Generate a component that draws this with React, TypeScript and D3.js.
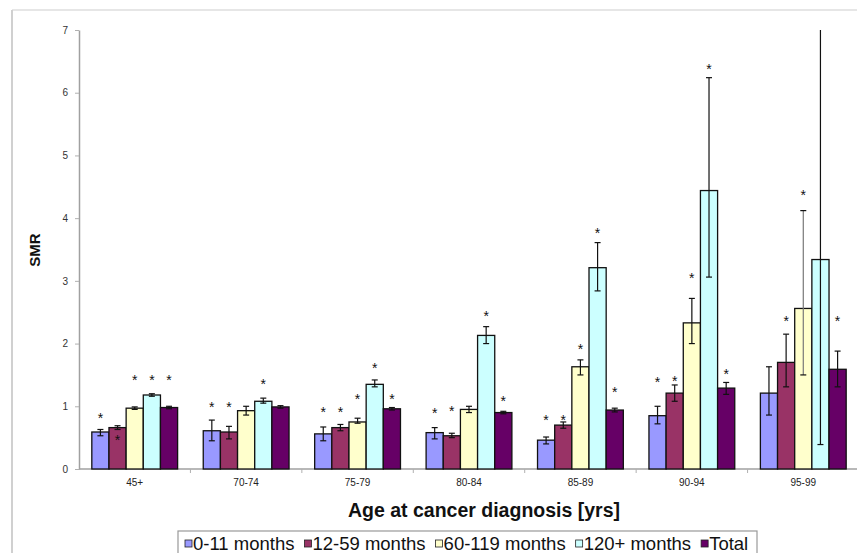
import React, { useEffect, useRef } from 'react';
import * as d3 from 'd3';

const categories = ['45+', '70-74', '75-79', '80-84', '85-89', '90-94', '95-99'];
const seriesNames = ['0-11 months', '12-59 months', '60-119 months', '120+ months', 'Total'];
const seriesColors = ['#9999ff', '#993366', '#ffffcc', '#ccffff', '#660066'];

// SMR per age group, one array per follow-up period
const smr0_11 = [0.59, 0.61, 0.56, 0.58, 0.46, 0.85, 1.21];
const smr12_59 = [0.66, 0.59, 0.66, 0.53, 0.70, 1.21, 1.70];
const smr60_119 = [0.97, 0.93, 0.75, 0.95, 1.63, 2.33, 2.56];
const smr120 = [1.18, 1.08, 1.35, 2.13, 3.21, 4.44, 3.34];
const smrTotal = [0.98, 0.99, 0.96, 0.90, 0.94, 1.29, 1.59];

// 95% confidence limits
const lo0_11 = [0.53, 0.45, 0.45, 0.48, 0.40, 0.72, 0.86];
const hi0_11 = [0.63, 0.78, 0.67, 0.66, 0.51, 1.00, 1.63];
const lo12_59 = [0.63, 0.48, 0.61, 0.50, 0.65, 1.08, 1.31];
const hi12_59 = [0.69, 0.68, 0.71, 0.57, 0.75, 1.34, 2.15];
const lo60_119 = [0.95, 0.86, 0.73, 0.90, 1.50, 2.00, 1.50];
const hi60_119 = [0.99, 1.00, 0.81, 1.00, 1.74, 2.72, 4.12];
const lo120 = [1.16, 1.05, 1.31, 2.00, 2.84, 3.06, 0.39];
const hi120 = [1.20, 1.13, 1.42, 2.27, 3.61, 6.24, 7.5];
const loTotal = [0.96, 0.97, 0.94, 0.88, 0.91, 1.19, 1.31];
const hiTotal = [1.00, 1.01, 0.98, 0.92, 0.97, 1.38, 1.88];

// where the significance asterisks sit (null = none)
const star0_11 = [0.86, 1.03, 0.95, 0.94, 0.83, 1.44, null];
const star12_59 = [0.51, 1.03, 0.95, 0.97, 0.83, 1.45, 2.40];
const star60_119 = [1.47, null, 1.16, null, 1.96, 3.10, 4.42];
const star120 = [1.47, 1.41, 1.66, 2.48, 3.81, 6.42, null];
const starTotal = [1.47, null, 1.16, 1.14, 1.28, 1.56, 2.40];

const yTicks = [0, 1, 2, 3, 4, 5, 6, 7];

const values = [smr0_11, smr12_59, smr60_119, smr120, smrTotal];
const lows = [lo0_11, lo12_59, lo60_119, lo120, loTotal];
const highs = [hi0_11, hi12_59, hi60_119, hi120, hiTotal];
const stars = [star0_11, star12_59, star60_119, star120, starTotal];

const App = () => {
    const svgRef = useRef(null);

    const width = 857;
    const height = 553;
    const marginTop = 30;
    const marginLeft = 79;
    const plotRight = 859;
    const plotBottom = 469;
    const font = 'Arial, "Liberation Sans", sans-serif';

    useEffect(() => {
        const svg = d3.select(svgRef.current);
        svg.selectAll('*').remove();

        const rows = [];
        categories.forEach((cat, i) => {
            seriesNames.forEach((s, j) => {
                rows.push({
                    cat, s, j,
                    v: values[j][i],
                    lo: lows[j][i],
                    hi: highs[j][i],
                    star: stars[j][i]
                });
            });
        });

        const x0 = d3.scaleBand()
            .domain(categories)
            .range([marginLeft, plotRight])
            .paddingInner(0.23)
            .paddingOuter(0.115);
        const x1 = d3.scaleBand()
            .domain(seriesNames)
            .range([0, x0.bandwidth()]);
        const y = d3.scaleLinear()
            .domain([0, 7])
            .range([plotBottom, marginTop]);
        const color = d3.scaleOrdinal(seriesNames, seriesColors);

        // frame
        svg.append('line')
            .attr('x1', 12).attr('x2', width).attr('y1', 10).attr('y2', 10)
            .attr('stroke', '#e6e6e6').attr('stroke-width', 2);
        svg.append('line')
            .attr('x1', 12).attr('x2', 12).attr('y1', 10).attr('y2', height)
            .attr('stroke', '#d0d0d0').attr('stroke-width', 2);

        // Y axis
        const gy = svg.append('g')
            .attr('transform', `translate(${marginLeft},0)`)
            .call(d3.axisLeft(y).tickValues(yTicks).tickFormat(d3.format('d')).tickSize(4).tickSizeOuter(0));
        gy.select('.domain').attr('stroke', '#a0a0a0').attr('stroke-width', 1.5);
        gy.selectAll('.tick line').attr('stroke', '#b0b0b0');
        gy.selectAll('.tick text')
            .attr('x', -11)
            .attr('fill', '#333')
            .style('font-family', font)
            .style('font-size', '10px');

        // X axis
        const boundaries = d3.range(categories.length + 1).map(k => marginLeft + k * x0.step());
        svg.append('line')
            .attr('x1', marginLeft).attr('x2', plotRight)
            .attr('y1', plotBottom).attr('y2', plotBottom)
            .attr('stroke', '#a0a0a0').attr('stroke-width', 1.5);
        svg.append('g')
            .selectAll('line')
            .data(boundaries.slice(1))
            .join('line')
            .attr('x1', d => d).attr('x2', d => d)
            .attr('y1', plotBottom).attr('y2', plotBottom + 4)
            .attr('stroke', '#b0b0b0');
        svg.append('g')
            .selectAll('text')
            .data(categories)
            .join('text')
            .attr('x', d => x0(d) + x0.bandwidth() / 2)
            .attr('y', plotBottom + 17)
            .attr('text-anchor', 'middle')
            .attr('fill', '#222')
            .style('font-family', font)
            .style('font-size', '10px')
            .text(d => d);

        // bars
        const bar = svg.append('g')
            .selectAll('g')
            .data(rows)
            .join('g')
            .attr('transform', d => `translate(${x0(d.cat) + x1(d.s)},0)`);

        bar.append('rect')
            .attr('x', 0)
            .attr('y', d => y(d.v))
            .attr('width', x1.bandwidth())
            .attr('height', d => y(0) - y(d.v))
            .attr('fill', d => color(d.s))
            .attr('stroke', '#111')
            .attr('stroke-width', 1.3);

        // error bars
        const cx = x1.bandwidth() / 2;
        bar.append('line')
            .attr('x1', cx).attr('x2', cx)
            .attr('y1', d => y(Math.min(d.hi, 7)))
            .attr('y2', d => y(d.lo))
            .attr('stroke', d => (d.j === 2 && d.cat === '95-99') ? '#777' : '#111')
            .attr('stroke-width', 1.2);
        bar.filter(d => d.hi <= 7).append('line')
            .attr('x1', cx - 3).attr('x2', cx + 3)
            .attr('y1', d => y(d.hi)).attr('y2', d => y(d.hi))
            .attr('stroke', '#111').attr('stroke-width', 1.2);
        bar.append('line')
            .attr('x1', cx - 3).attr('x2', cx + 3)
            .attr('y1', d => y(d.lo)).attr('y2', d => y(d.lo))
            .attr('stroke', '#111').attr('stroke-width', 1.2);

        // asterisks
        bar.filter(d => d.star != null).append('text')
            .attr('x', cx)
            .attr('y', d => y(d.star) + 8)
            .attr('text-anchor', 'middle')
            .attr('fill', '#111')
            .style('font-family', font)
            .style('font-size', '14px')
            .text('*');

        // axis titles
        svg.append('text')
            .attr('transform', `translate(40,250) rotate(-90)`)
            .attr('text-anchor', 'middle')
            .attr('fill', '#111')
            .style('font-family', font)
            .style('font-size', '15px')
            .style('font-weight', 'bold')
            .text('SMR');
        svg.append('text')
            .attr('x', 484)
            .attr('y', 517)
            .attr('text-anchor', 'middle')
            .attr('fill', '#111')
            .style('font-family', font)
            .style('font-size', '19.5px')
            .style('font-weight', 'bold')
            .text('Age at cancer diagnosis [yrs]');

        // legend
        const legend = svg.append('g');
        legend.append('rect')
            .attr('x', 178).attr('y', 531)
            .attr('width', 579).attr('height', 40)
            .attr('fill', '#fff')
            .attr('stroke', '#999').attr('stroke-width', 1.2);
        let lx = 185;
        seriesNames.forEach((s, j) => {
            legend.append('rect')
                .attr('x', lx).attr('y', 540)
                .attr('width', 7).attr('height', 7)
                .attr('fill', seriesColors[j])
                .attr('stroke', '#222').attr('stroke-width', 0.8);
            const t = legend.append('text')
                .attr('x', lx + 8)
                .attr('y', 550)
                .attr('fill', '#111')
                .style('font-family', font)
                .style('font-size', '18.5px')
                .text(s);
            const w = t.node().getComputedTextLength();
            lx += 8 + w + 10;
        });
    }, []);

    return (
        <svg
            ref={svgRef}
            width={width}
            height={height}
            style={{ position: 'absolute', left: 0, top: 0, background: '#fff' }}
        ></svg>
    );
};

export default App;
